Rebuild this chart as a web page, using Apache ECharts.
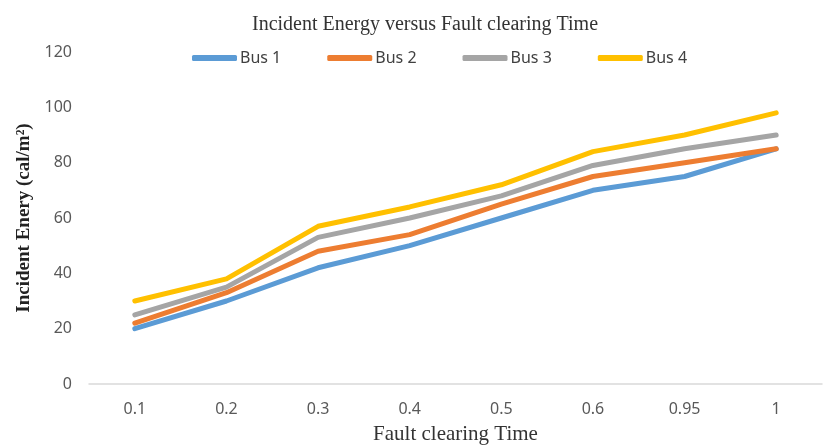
<!DOCTYPE html>
<html>
<head>
<meta charset="utf-8">
<script src="https://cdn.jsdelivr.net/npm/echarts@6/dist/echarts.min.js"></script>
<style>html,body{margin:0;padding:0;background:#fff}#c{width:825px;height:447px}</style>
</head>
<body>
<div id="c"></div>
<script>
const categories = ['0.1','0.2','0.3','0.4','0.5','0.6','0.95','1'];
const bus1 = [20, 30, 42, 50, 60, 70, 75, 85];
const bus2 = [22, 33, 48, 54, 65, 75, 80, 85];
const bus3 = [25, 35, 53, 60, 68, 79, 85, 90];
const bus4 = [30, 38, 57, 64, 72, 84, 90, 98];
const seriesNames = ['Bus 1','Bus 2','Bus 3','Bus 4'];
const colors = ['#5B9BD5','#ED7D31','#A5A5A5','#FFC000'];
const allData = [bus1, bus2, bus3, bus4];

const chart = echarts.init(document.getElementById('c'));
chart.setOption({
  animation: false,
  backgroundColor: '#fff',
  title: {
    text: 'Incident Energy versus Fault clearing Time',
    left: 420, top: 10, textAlign: 'center',
    textStyle: {fontFamily: 'Liberation Serif', fontWeight: 'normal', fontSize: 20, color: '#333'}
  },
  legend: {
    left: 187, top: 45,
    icon: 'roundRect', itemWidth: 45, itemHeight: 6, itemGap: 46,
    textStyle: {fontFamily: 'Noto Sans', fontSize: 16, color: '#404040', padding: [0, 0, 0, -2]},
    data: seriesNames
  },
  grid: {left: 89, right: 3, top: 52, bottom: 63, containLabel: false, outerBoundsMode: 'none'},
  xAxis: {
    type: 'category', data: categories, boundaryGap: true,
    name: 'Fault clearing Time', nameLocation: 'middle', nameGap: 40,
    nameTextStyle: {fontFamily: 'Liberation Serif', fontSize: 21, color: '#333'},
    axisLine: {lineStyle: {color: '#D9D9D9', width: 1.5}},
    axisTick: {show: false},
    axisLabel: {fontFamily: 'Noto Sans', fontSize: 16, color: '#595959', margin: 17}
  },
  yAxis: {
    type: 'value', min: 0, max: 120, interval: 20,
    name: 'Incident Enery (cal/m²)', nameLocation: 'middle', nameGap: 55,
    nameTextStyle: {fontFamily: 'Liberation Serif', fontWeight: 'bold', fontSize: 19, color: '#222'},
    axisLine: {show: false}, axisTick: {show: false},
    splitLine: {show: false},
    axisLabel: {fontFamily: 'Noto Sans', fontSize: 16, color: '#595959', margin: 17}
  },
  series: allData.map((d, i) => ({
    name: seriesNames[i], type: 'line', data: d,
    showSymbol: false, symbol: 'none',
    color: colors[i],
    lineStyle: {width: 5, color: colors[i], cap: 'round', join: 'round'}
  }))
});
</script>
</body>
</html>
